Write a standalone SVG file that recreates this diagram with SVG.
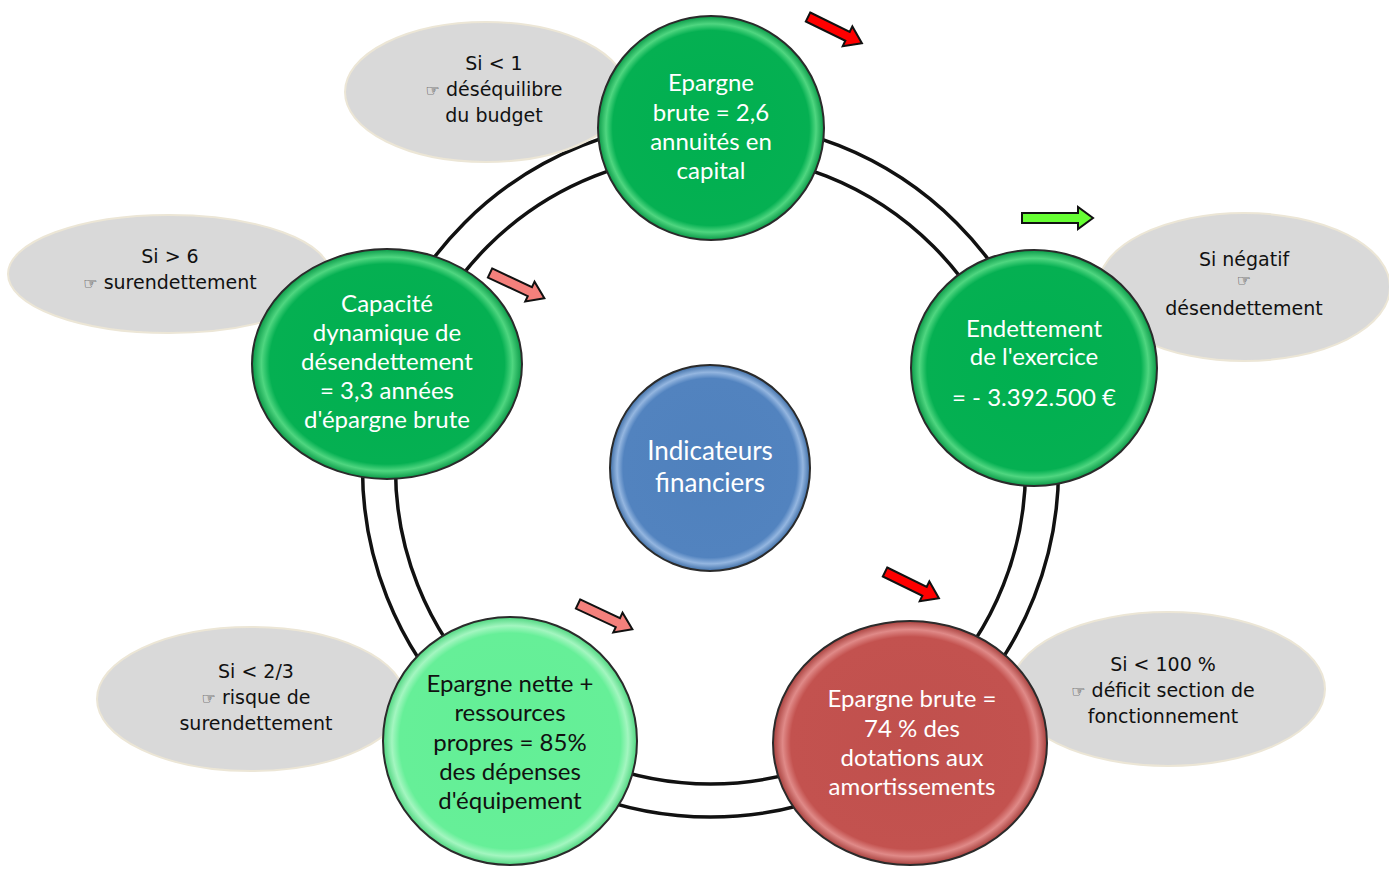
<svg xmlns="http://www.w3.org/2000/svg" width="1389" height="870" viewBox="0 0 1389 870">
<style>
.ring{fill:none;stroke:#111;stroke-width:3.5}
.bubble{fill:#d9d9d9;stroke:#ece6d6;stroke-width:2}
.btxt{font-family:"DejaVu Sans",Verdana,sans-serif;font-size:19px;fill:#111;text-anchor:middle}
.hand{font-size:16px}
.ctxt{font-family:Lato,"Open Sans",sans-serif;font-size:24px;fill:#fff;text-anchor:middle}
.dark{fill:#111}
.node{stroke:#2b2b2b;stroke-width:2}
.arrow{stroke:#111;stroke-width:2;stroke-linejoin:miter}
</style>
<defs>
<radialGradient id="gGreen" cx="0.5" cy="0.5" r="0.5">
<stop offset="0" stop-color="#00b050"/><stop offset="0.87" stop-color="#05b052"/><stop offset="0.93" stop-color="#4fd680"/><stop offset="1" stop-color="#0a9a48"/>
</radialGradient>
<radialGradient id="gLight" cx="0.5" cy="0.5" r="0.5">
<stop offset="0" stop-color="#63ef96"/><stop offset="0.87" stop-color="#66ef98"/><stop offset="0.93" stop-color="#a3f6c0"/><stop offset="1" stop-color="#4fd680"/>
</radialGradient>
<radialGradient id="gRed" cx="0.5" cy="0.5" r="0.5">
<stop offset="0" stop-color="#c0504d"/><stop offset="0.87" stop-color="#c3524f"/><stop offset="0.93" stop-color="#e08a88"/><stop offset="1" stop-color="#a8403d"/>
</radialGradient>
<radialGradient id="gBlue" cx="0.5" cy="0.5" r="0.5">
<stop offset="0" stop-color="#4f81bd"/><stop offset="0.87" stop-color="#5283bf"/><stop offset="0.93" stop-color="#94b6e0"/><stop offset="1" stop-color="#3f6fa8"/>
</radialGradient>
<path id="arr" d="M0,-5 L44,-5 L44,-11 L60,0 L44,11 L44,5 L0,5 Z"/>
</defs>

<g id="connectors">
<circle class="ring" cx="710.5" cy="469" r="348"/>
<circle class="ring" cx="710.5" cy="469" r="315"/>
</g>

<g id="note-top"><ellipse class="bubble" cx="486" cy="92" rx="141" ry="70"/>
<text class="btxt" x="494" y="70">Si &lt; 1</text>
<text class="btxt" x="494" y="96"><tspan class="hand">☞</tspan> déséquilibre</text>
<text class="btxt" x="494" y="122">du budget</text></g>

<g id="note-left"><ellipse class="bubble" cx="169" cy="274" rx="161" ry="59"/>
<text class="btxt" x="170" y="263">Si &gt; 6</text>
<text class="btxt" x="170" y="289"><tspan class="hand">☞</tspan> surendettement</text></g>

<g id="note-right"><ellipse class="bubble" cx="1244" cy="287" rx="146" ry="74"/>
<text class="btxt" x="1244" y="266">Si négatif</text>
<text class="btxt hand" x="1244" y="286">☞</text>
<text class="btxt" x="1244" y="315">désendettement</text></g>

<g id="note-bottom-left"><ellipse class="bubble" cx="251" cy="699" rx="154" ry="72"/>
<text class="btxt" x="256" y="678">Si &lt; 2/3</text>
<text class="btxt" x="256" y="704"><tspan class="hand">☞</tspan> risque de</text>
<text class="btxt" x="256" y="730">surendettement</text></g>

<g id="note-bottom-right"><ellipse class="bubble" cx="1168" cy="689" rx="157" ry="77"/>
<text class="btxt" x="1163" y="671">Si &lt; 100 %</text>
<text class="btxt" x="1163" y="697"><tspan class="hand">☞</tspan> déficit section de</text>
<text class="btxt" x="1163" y="723">fonctionnement</text></g>

<g id="node-epargne-brute-annuites"><ellipse class="node" cx="711" cy="128" rx="113" ry="112" fill="url(#gGreen)"/>
<text class="ctxt" x="711" y="91">Epargne</text>
<text class="ctxt" x="711" y="121">brute = 2,6</text>
<text class="ctxt" x="711" y="150">annuités en</text>
<text class="ctxt" x="711" y="179">capital</text></g>

<g id="node-endettement"><ellipse class="node" cx="1034" cy="368" rx="123" ry="118" fill="url(#gGreen)"/>
<text class="ctxt" x="1034" y="337">Endettement</text>
<text class="ctxt" x="1034" y="365">de l'exercice</text>
<text class="ctxt" x="1034" y="406">= - 3.392.500 €</text></g>

<g id="node-capacite"><ellipse class="node" cx="387" cy="364" rx="135" ry="115" fill="url(#gGreen)"/>
<text class="ctxt" x="387" y="312">Capacité</text>
<text class="ctxt" x="387" y="341">dynamique de</text>
<text class="ctxt" x="387" y="370">désendettement</text>
<text class="ctxt" x="387" y="399">= 3,3 années</text>
<text class="ctxt" x="387" y="428">d'épargne brute</text></g>

<g id="node-indicateurs"><ellipse class="node" cx="710" cy="468" rx="100" ry="103" fill="url(#gBlue)"/>
<text class="ctxt" x="710" y="460" style="font-size:26px">Indicateurs</text>
<text class="ctxt" x="710" y="492" style="font-size:26px">financiers</text></g>

<g id="node-epargne-nette"><ellipse class="node" cx="510" cy="741" rx="127" ry="124" fill="url(#gLight)"/>
<text class="ctxt dark" x="510" y="692">Epargne nette +</text>
<text class="ctxt dark" x="510" y="721">ressources</text>
<text class="ctxt dark" x="510" y="751">propres = 85%</text>
<text class="ctxt dark" x="510" y="780">des dépenses</text>
<text class="ctxt dark" x="510" y="809">d'équipement</text></g>

<g id="node-epargne-brute-dotations"><ellipse class="node" cx="910" cy="743" rx="137" ry="122" fill="url(#gRed)"/>
<text class="ctxt" x="912" y="707">Epargne brute =</text>
<text class="ctxt" x="912" y="737">74 % des</text>
<text class="ctxt" x="912" y="766">dotations aux</text>
<text class="ctxt" x="912" y="795">amortissements</text></g>

<g id="arrows">
<use href="#arr" class="arrow" fill="#ff0000" transform="translate(808,17) rotate(26)"/>
<use href="#arr" class="arrow" fill="#ff0000" transform="translate(885,572) rotate(26)"/>
<use href="#arr" class="arrow" fill="#f4807c" transform="translate(490,273) rotate(25)"/>
<use href="#arr" class="arrow" fill="#f4807c" transform="translate(578,604) rotate(25)"/>
<path class="arrow" fill="#66ff33" d="M1022,213 L1078,213 L1078,207 L1093,218 L1078,229 L1078,223 L1022,223 Z"/>
</g>
</svg>
